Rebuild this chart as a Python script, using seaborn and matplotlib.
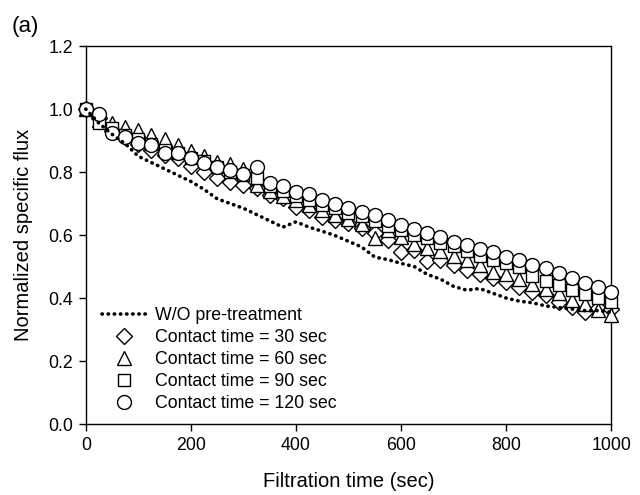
import numpy as np
import pandas as pd
import seaborn as sns
import matplotlib.pyplot as plt

# filtration time (sec), one sample every 25 s
time_sec = [0, 25, 50, 75, 100, 125, 150, 175, 200, 225, 250, 275, 300, 325, 350, 375, 400,
            425, 450, 475, 500, 525, 550, 575, 600, 625, 650, 675, 700, 725, 750, 775, 800,
            825, 850, 875, 900, 925, 950, 975, 1000]

wo_pretreat = [1.0, 0.955, 0.92, 0.89, 0.85, 0.83, 0.81, 0.79, 0.77, 0.745, 0.715, 0.70, 0.685,
               0.665, 0.645, 0.625, 0.642, 0.625, 0.612, 0.598, 0.58, 0.562, 0.53, 0.522, 0.51,
               0.50, 0.475, 0.46, 0.437, 0.425, 0.43, 0.415, 0.40, 0.39, 0.385, 0.375, 0.37,
               0.365, 0.36, 0.36, 0.355]
ct_30 = [1.0, 0.97, 0.93, 0.91, 0.89, 0.87, 0.855, 0.845, 0.819, 0.80, 0.78, 0.769, 0.76, 0.748,
         0.727, 0.716, 0.69, 0.679, 0.658, 0.648, 0.637, 0.621, 0.605, 0.584, 0.547, 0.552, 0.518,
         0.521, 0.505, 0.489, 0.475, 0.462, 0.452, 0.436, 0.42, 0.41, 0.388, 0.37, 0.357, 0.368,
         0.365]
ct_60 = [1.0, 0.965, 0.957, 0.944, 0.933, 0.917, 0.904, 0.886, 0.868, 0.85, 0.833, 0.824, 0.809,
         0.76, 0.74, 0.725, 0.71, 0.695, 0.68, 0.665, 0.65, 0.635, 0.59, 0.615, 0.595, 0.571,
         0.56, 0.55, 0.535, 0.52, 0.505, 0.484, 0.475, 0.46, 0.445, 0.43, 0.415, 0.395, 0.38,
         0.362, 0.346]
ct_90 = [1.0, 0.955, 0.939, 0.917, 0.905, 0.89, 0.87, 0.86, 0.845, 0.835, 0.815, 0.80, 0.79,
         0.78, 0.755, 0.74, 0.725, 0.71, 0.695, 0.685, 0.67, 0.66, 0.645, 0.63, 0.615, 0.60,
         0.59, 0.575, 0.565, 0.55, 0.535, 0.52, 0.51, 0.50, 0.47, 0.455, 0.44, 0.425, 0.413,
         0.40, 0.388]
ct_120 = [1.0, 0.983, 0.925, 0.912, 0.891, 0.886, 0.859, 0.859, 0.843, 0.83, 0.817, 0.806, 0.794,
          0.815, 0.766, 0.755, 0.738, 0.729, 0.711, 0.70, 0.685, 0.674, 0.663, 0.649, 0.632,
          0.618, 0.605, 0.593, 0.579, 0.568, 0.556, 0.547, 0.531, 0.521, 0.505, 0.494, 0.478,
          0.463, 0.447, 0.436, 0.42]

sns.set_style("ticks")
plt.rcParams['font.family'] = ['Liberation Sans', 'DejaVu Sans']
plt.rcParams['text.color'] = 'black'
plt.rcParams['axes.labelcolor'] = 'black'
plt.rcParams['xtick.direction'] = 'out'
plt.rcParams['ytick.direction'] = 'out'

fig = plt.figure(figsize=(6.4, 4.95), dpi=100)
ax = fig.add_axes([0.134, 0.1434, 0.821, 0.7636])

df = pd.DataFrame({"t": time_sec, "wo": wo_pretreat, "c30": ct_30, "c60": ct_60,
                   "c90": ct_90, "c120": ct_120})

series = [("c30", "D", 8.5, "Contact time = 30 sec"),
          ("c60", "^", 10, "Contact time = 60 sec"),
          ("c90", "s", 9, "Contact time = 90 sec"),
          ("c120", "o", 10, "Contact time = 120 sec")]

handles = []
for i, (col, mk, ms, lab) in enumerate(series):
    sns.lineplot(data=df, x="t", y=col, ax=ax, linestyle="none", marker=mk,
                 markersize=ms, markerfacecolor="white", markeredgecolor="black",
                 markeredgewidth=1.0, color="black", zorder=3 + i, clip_on=False)
    h, = ax.plot([], [], linestyle="none", marker=mk, markersize=ms,
                 markerfacecolor="white", markeredgecolor="black", markeredgewidth=1.0)
    handles.append((h, lab))

sns.lineplot(data=df, x="t", y="wo", ax=ax, color="black", linewidth=2.6,
             linestyle=(0, (0.1, 1.6)), dash_capstyle="round", zorder=10, clip_on=False)
hwo, = ax.plot([], [], color="black", linewidth=2.6, linestyle=(0, (0.1, 1.6)),
               dash_capstyle="round")

leg = ax.legend([hwo] + [h for h, _ in handles],
                ["W/O pre-treatment"] + [l for _, l in handles],
                loc="lower left", bbox_to_anchor=(0.0, -0.01), frameon=False,
                fontsize=12.8, handlelength=2.5, labelspacing=0.28, handletextpad=0.5)

ax.set_xlim(0, 1000)
ax.set_ylim(0, 1.2)
ax.set_xticks([0, 200, 400, 600, 800, 1000])
ax.set_yticks(np.arange(0, 1.21, 0.2))
ax.set_yticklabels([f"{v:.1f}" for v in np.arange(0, 1.21, 0.2)])
ax.tick_params(labelsize=12.8, length=5, width=1, colors="black", pad=4)
ax.set_xlabel("Filtration time (sec)", fontsize=14.5, labelpad=13)
ax.set_ylabel("Normalized specific flux", fontsize=14.5, labelpad=11)
for s in ax.spines.values():
    s.set_linewidth(1.0)
    s.set_color("black")

fig.text(0.018, 0.935, "(a)", fontsize=16)

fig.savefig("out.png", dpi=100)
